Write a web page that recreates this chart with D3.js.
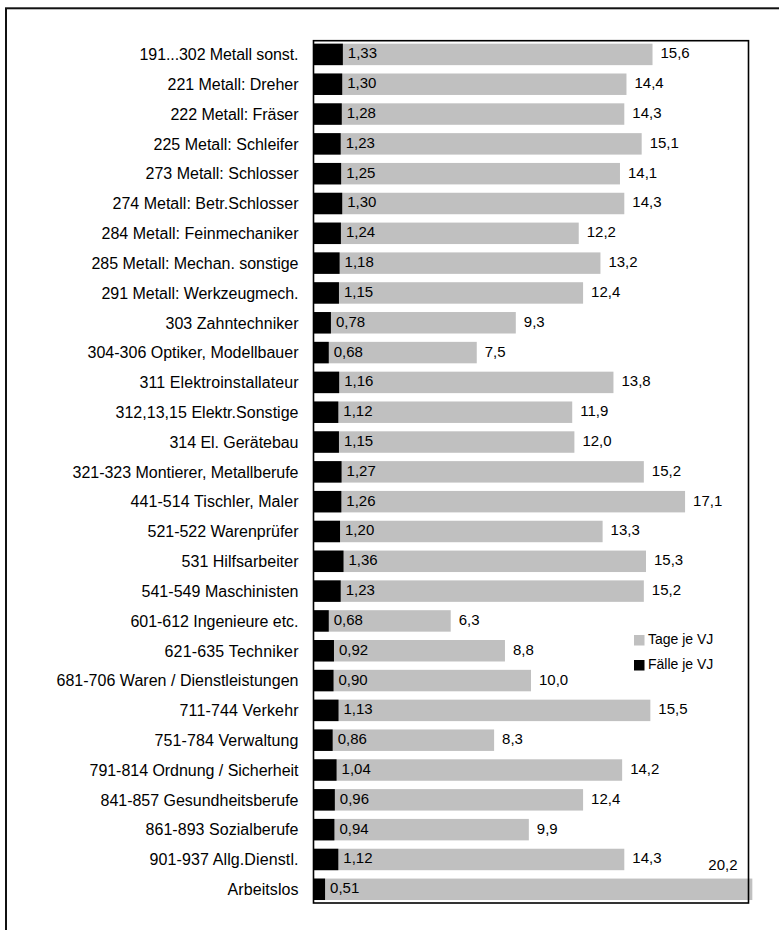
<!DOCTYPE html>
<html>
<head>
<meta charset="utf-8">
<script src="https://cdn.jsdelivr.net/npm/d3@7"></script>
<style>
  html, body { margin: 0; padding: 0; background: #fff; }
  svg { display: block; font-family: "Liberation Sans", Arial, sans-serif; }
</style>
</head>
<body>
<svg id="chart" width="779" height="930"></svg>
<script>
// Occupational groups (Berufsgruppen)
const categories = [
  "191...302 Metall sonst.",
  "221 Metall: Dreher",
  "222 Metall: Fräser",
  "225 Metall: Schleifer",
  "273 Metall: Schlosser",
  "274 Metall: Betr.Schlosser",
  "284 Metall: Feinmechaniker",
  "285 Metall: Mechan. sonstige",
  "291 Metall: Werkzeugmech.",
  "303 Zahntechniker",
  "304-306 Optiker, Modellbauer",
  "311 Elektroinstallateur",
  "312,13,15 Elektr.Sonstige",
  "314 El. Gerätebau",
  "321-323 Montierer, Metallberufe",
  "441-514 Tischler, Maler",
  "521-522 Warenprüfer",
  "531 Hilfsarbeiter",
  "541-549 Maschinisten",
  "601-612 Ingenieure etc.",
  "621-635 Techniker",
  "681-706 Waren / Dienstleistungen",
  "711-744 Verkehr",
  "751-784 Verwaltung",
  "791-814 Ordnung / Sicherheit",
  "841-857 Gesundheitsberufe",
  "861-893 Sozialberufe",
  "901-937 Allg.Dienstl.",
  "Arbeitslos"
];

// Arbeitsunfähigkeitstage je Versicherungsjahr
const tageJeVJ = [
  15.6, 14.4, 14.3, 15.1, 14.1, 14.3, 12.2, 13.2, 12.4, 9.3,
  7.5, 13.8, 11.9, 12.0, 15.2, 17.1, 13.3, 15.3, 15.2, 6.3,
  8.8, 10.0, 15.5, 8.3, 14.2, 12.4, 9.9, 14.3, 20.2
];

// Arbeitsunfähigkeitsfälle je Versicherungsjahr
const faelleJeVJ = [
  1.33, 1.30, 1.28, 1.23, 1.25, 1.30, 1.24, 1.18, 1.15, 0.78,
  0.68, 1.16, 1.12, 1.15, 1.27, 1.26, 1.20, 1.36, 1.23, 0.68,
  0.92, 0.90, 1.13, 0.86, 1.04, 0.96, 0.94, 1.12, 0.51
];

const legendLabels = ["Tage je VJ", "Fälle je VJ"];
const xDomainMax = 20;

const rows = categories.map((c, i) => ({ name: c, tage: tageJeVJ[i], faelle: faelleJeVJ[i] }));

const svg = d3.select("#chart");
const fmt = (v, d) => v.toFixed(d).replace(".", ",");

const plot = { left: 313.5, top: 40.7, right: 748.5, bottom: 903 };

// Width of a string when every glyph advance is snapped to whole pixels
const measurer = svg.append("text").attr("font-size", 16).attr("x", -500).attr("y", -500);
function snappedWidth(str) {
  let w = 0;
  for (const ch of str) {
    measurer.text(ch === " " ? "\u00a0" : ch);
    w += Math.round(measurer.node().getComputedTextLength());
  }
  return w;
}

// Outer frame (runs past the right and bottom edges of the page)
svg.append("rect")
  .attr("x", 6).attr("y", 8.3)
  .attr("width", 900).attr("height", 1000)
  .attr("fill", "none")
  .attr("stroke", "#111").attr("stroke-width", 2);

const x = d3.scaleLinear().domain([0, xDomainMax]).range([plot.left + 0.5, plot.right - 0.5]);
const y = d3.scaleBand().domain(categories)
  .range([plot.top, plot.bottom])
  .paddingInner(0.28).paddingOuter(0.1);

const g = svg.append("g");

// Days bars (grey, from zero)
g.selectAll("rect.tage").data(rows).join("rect")
  .attr("class", "tage")
  .attr("x", x(0))
  .attr("y", d => y(d.name))
  .attr("width", d => x(d.tage) - x(0))
  .attr("height", y.bandwidth())
  .attr("fill", "#c0c0c0");

// Cases bars (black, drawn over the grey ones)
g.selectAll("rect.faelle").data(rows).join("rect")
  .attr("class", "faelle")
  .attr("x", x(0))
  .attr("y", d => y(d.name))
  .attr("width", d => x(d.faelle) - x(0))
  .attr("height", y.bandwidth())
  .attr("fill", "#000");

// Plot area frame
svg.append("rect")
  .attr("x", plot.left).attr("y", plot.top)
  .attr("width", plot.right - plot.left).attr("height", plot.bottom - plot.top)
  .attr("fill", "none").attr("stroke", "#000").attr("stroke-width", 1.6);

// Category axis labels
const yAxis = d3.axisLeft(y).tickSize(0).tickPadding(15);
const ya = svg.append("g").attr("transform", `translate(${plot.left},0)`).call(yAxis);
ya.select(".domain").remove();
ya.selectAll("text")
  .attr("font-family", "Liberation Sans, Arial, sans-serif")
  .attr("font-size", 16).attr("fill", "#000")
  .attr("dy", "0.36em")
  .attr("lengthAdjust", "spacing")
  .attr("textLength", d => snappedWidth(d));

measurer.remove();

// Value labels: cases
g.selectAll("text.fl").data(rows).join("text")
  .attr("class", "fl")
  .attr("x", d => x(d.faelle) + 5)
  .attr("y", d => y(d.name) + y.bandwidth() / 2 + 4)
  .attr("font-size", 15)
  .text(d => fmt(d.faelle, 2));

// Value labels: days (above the bar when it reaches the frame)
const overflows = d => x(d.tage) + 8 > plot.right - 30;
g.selectAll("text.tl").data(rows).join("text")
  .attr("class", "tl")
  .attr("x", d => overflows(d) ? plot.right - 11 : x(d.tage) + 8)
  .attr("text-anchor", d => overflows(d) ? "end" : "start")
  .attr("y", d => overflows(d) ? y(d.name) - 9 : y(d.name) + y.bandwidth() / 2 + 4)
  .attr("font-size", 15)
  .text(d => fmt(d.tage, 1));

// Legend
const legend = svg.append("g").attr("transform", "translate(634,635)");
const legendColors = ["#c0c0c0", "#000"];
legendLabels.forEach((lbl, i) => {
  const row = legend.append("g").attr("transform", `translate(0,${i * 25})`);
  row.append("rect").attr("width", 10.5).attr("height", 10.5).attr("fill", legendColors[i]);
  row.append("text").attr("x", 14).attr("y", 9).attr("font-size", 14).text(lbl);
});
</script>
</body>
</html>
